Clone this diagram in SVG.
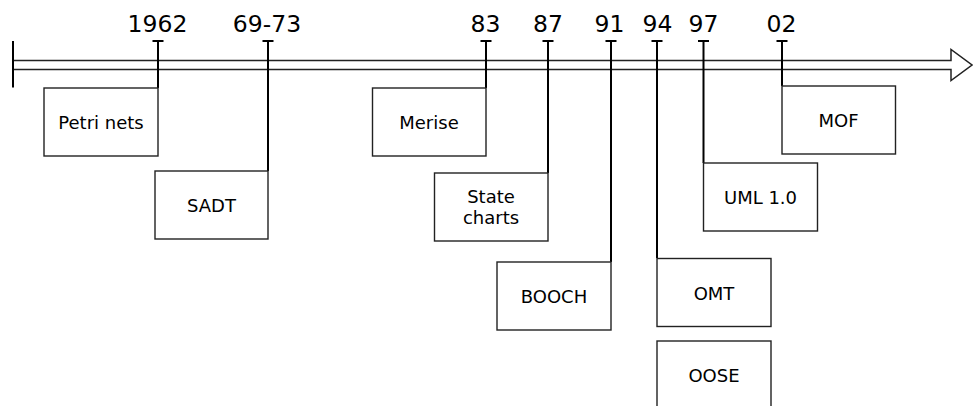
<svg xmlns="http://www.w3.org/2000/svg" width="973" height="406" viewBox="0 0 973 406">
<style>
.box{fill:#fff;stroke:#222;stroke-width:1.4}
.lbl{font-family:"DejaVu Sans",sans-serif;font-size:18px;fill:#000;text-anchor:middle}
.yr{font-family:"DejaVu Sans",sans-serif;font-size:23.5px;fill:#000;text-anchor:middle}
.tick{fill:none;stroke:#000;stroke-width:2}
.axis{fill:#fff;stroke:#222;stroke-width:1.5}
</style>
<g id="timeline">
<path class="axis" d="M13,60.5 H951 V49.5 L972,65 L951,80.5 V69.5 H13 Z"/>
<line class="tick" x1="13" y1="41" x2="13" y2="87.5"/>
</g>
<g id="connectors">
<path class="tick" d="M152.5,41 H163.5 M158,41 V88"/>
<path class="tick" d="M262.5,41 H273.5 M268,41 V171"/>
<path class="tick" d="M480.5,41 H491.5 M486,41 V88"/>
<path class="tick" d="M542.5,41 H553.5 M548,41 V173"/>
<path class="tick" d="M605.5,41 H616.5 M611,41 V262"/>
<path class="tick" d="M651.5,41 H662.5 M657,41 V258"/>
<path class="tick" d="M698,41 H709 M703.5,41 V163"/>
<path class="tick" d="M776.5,41 H787.5 M782,41 V86"/>
</g>
<g id="years">
<text class="yr" x="157.5" y="32">1962</text>
<text class="yr" x="267" y="32">69-73</text>
<text class="yr" x="485.5" y="32">83</text>
<text class="yr" x="548" y="32">87</text>
<text class="yr" x="609.5" y="32">91</text>
<text class="yr" x="657.5" y="32">94</text>
<text class="yr" x="703.5" y="32">97</text>
<text class="yr" x="781.5" y="32">02</text>
</g>
<g id="petri"><rect class="box" x="44" y="88" width="114" height="68"/><text class="lbl" x="101" y="129">Petri nets</text></g>
<g id="sadt"><rect class="box" x="155" y="171" width="113" height="68"/><text class="lbl" x="211.5" y="212">SADT</text></g>
<g id="merise"><rect class="box" x="372.5" y="88" width="113.5" height="68"/><text class="lbl" x="429" y="129">Merise</text></g>
<g id="statecharts"><rect class="box" x="434.5" y="173" width="113.5" height="68"/><text class="lbl" x="491" y="203">State</text><text class="lbl" x="491" y="224">charts</text></g>
<g id="booch"><rect class="box" x="497" y="262" width="114" height="68"/><text class="lbl" x="554" y="303">BOOCH</text></g>
<g id="omt"><rect class="box" x="657" y="258.5" width="114" height="68"/><text class="lbl" x="714" y="299.5">OMT</text></g>
<g id="oose"><rect class="box" x="657" y="341" width="114" height="68"/><text class="lbl" x="714" y="382">OOSE</text></g>
<g id="uml"><rect class="box" x="703.5" y="163" width="114" height="68"/><text class="lbl" x="760.5" y="204">UML 1.0</text></g>
<g id="mof"><rect class="box" x="782" y="86" width="113.5" height="68"/><text class="lbl" x="838.5" y="127">MOF</text></g>
</svg>
